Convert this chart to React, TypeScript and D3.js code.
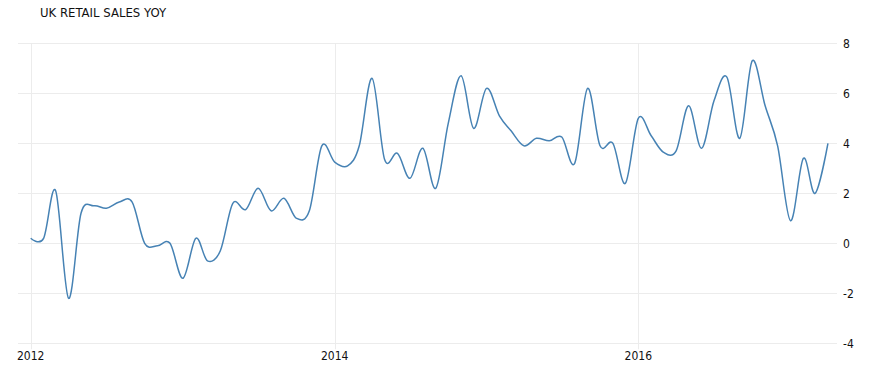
import React from "react";
import * as d3 from "d3";

const title = "UK RETAIL SALES YOY";
const startYear = 2012;
const values: number[] = [
  0.2, 0.2, 2.1, -2.2, 1.2, 1.5, 1.4, 1.65, 1.65, 0.0, -0.1, 0.0,
  -1.4, 0.2, -0.7, -0.3, 1.6, 1.35, 2.2, 1.3, 1.8, 1.0, 1.3, 3.9,
  3.25, 3.1, 3.9, 6.6, 3.35, 3.6, 2.6, 3.8, 2.2, 4.8, 6.7, 4.6,
  6.2, 5.1, 4.5, 3.9, 4.2, 4.1, 4.25, 3.2, 6.2, 3.9, 4.0, 2.4,
  5.0, 4.3, 3.65, 3.7, 5.5, 3.8, 5.7, 6.65, 4.2, 7.3, 5.5, 3.9,
  0.9, 3.4, 2.0, 4.0,
];
const yTicks: number[] = [-4, -2, 0, 2, 4, 6, 8];
const xTickYears: number[] = [2012, 2014, 2016];

export default function App() {
  const W = 892;
  const H = 381;
  const x = d3
    .scaleTime()
    .domain([new Date(2012, 0, 1), new Date(2016, 0, 1)])
    .range([30.7, 638.3]);
  const y = d3.scaleLinear().domain([-4, 8]).range([343.3, 43.3]);

  const data = values.map((v, i) => ({ date: new Date(startYear, i, 1), v }));
  const line = d3
    .line<{ date: Date; v: number }>()
    .x((d) => x(d.date))
    .y((d) => y(d.v))
    .curve(d3.curveCardinal.tension(0));

  const font = "'DejaVu Sans Condensed', 'DejaVu Sans', sans-serif";

  return (
    <div style={{ position: "absolute", left: 0, top: 0 }}>
      <svg width={W} height={H} style={{ display: "block", background: "#fff" }}>
        <text x={40} y={17} fontFamily={font} fontSize={13} fill="#111">
          {title}
        </text>
        {yTicks.map((t) => (
          <line
            key={"h" + t}
            x1={18}
            x2={837}
            y1={Math.round(y(t)) + 0.5}
            y2={Math.round(y(t)) + 0.5}
            stroke="#ececec"
            strokeWidth={1}
          />
        ))}
        {xTickYears.map((yr) => {
          const xx = Math.round(x(new Date(yr, 0, 1))) + 0.5;
          return (
            <line
              key={"v" + yr}
              x1={xx}
              x2={xx}
              y1={y(8)}
              y2={y(-4) + 6}
              stroke="#ececec"
              strokeWidth={1}
            />
          );
        })}
        {yTicks.map((t) => (
          <text
            key={"yl" + t}
            x={843}
            y={y(t)}
            dy="0.36em"
            fontFamily={font}
            fontSize={12}
            fill="#111"
          >
            {t}
          </text>
        ))}
        {xTickYears.map((yr) => (
          <text
            key={"xl" + yr}
            x={x(new Date(yr, 0, 1))}
            y={360}
            textAnchor="middle"
            fontFamily={font}
            fontSize={12}
            fill="#111"
          >
            {yr}
          </text>
        ))}
        <path d={line(data) || ""} fill="none" stroke="#4682b4" strokeWidth={1.5} />
      </svg>
    </div>
  );
}
